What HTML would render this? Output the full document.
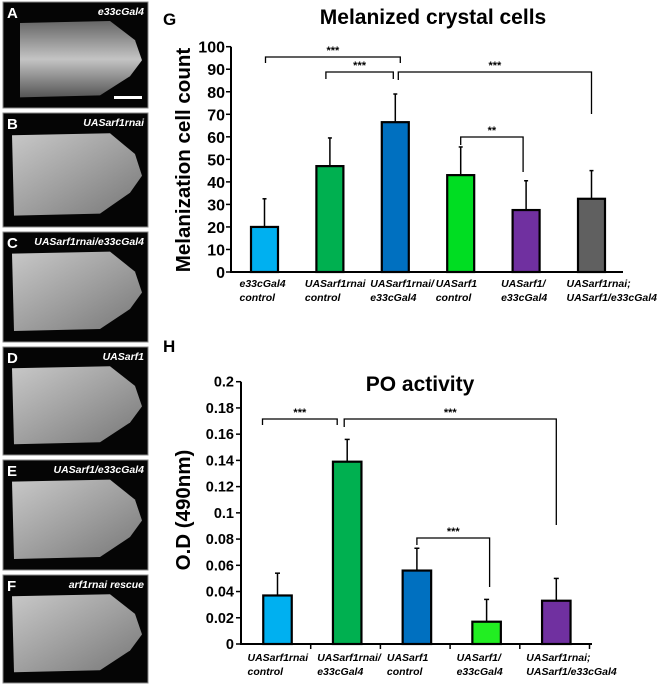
<!DOCTYPE html>
<html><head><meta charset="utf-8"><style>
body{margin:0;background:#fff;width:670px;height:685px;overflow:hidden;font-family:"Liberation Sans",Arial,sans-serif}
svg{display:block}
</style></head><body>
<svg width="670" height="685" viewBox="0 0 670 685" xmlns="http://www.w3.org/2000/svg">
<defs>
<linearGradient id="tis" x1="0" y1="0" x2="1" y2="1">
<stop offset="0" stop-color="#c8c8c8"/><stop offset="0.5" stop-color="#a0a0a0"/><stop offset="1" stop-color="#777"/>
</linearGradient>
<linearGradient id="tisA" x1="0" y1="0" x2="0" y2="1">
<stop offset="0" stop-color="#666"/><stop offset="0.5" stop-color="#c4c4c4"/><stop offset="1" stop-color="#555"/>
</linearGradient>
</defs>
<g id="panels"></g>
<g id="chartG"></g>
<g id="chartH"></g>
</svg>
<script>
// ---------- Chart G data ----------
const gCategories = [["e33cGal4","control"],["UASarf1rnai","control"],["UASarf1rnai/","e33cGal4"],["UASarf1","control"],["UASarf1/","e33cGal4"],["UASarf1rnai;","UASarf1/e33cGal4"]];
const gValues = [20, 47, 66.5, 43, 27.5, 32.5];
const gErrors = [12.5, 12.5, 12.5, 12.5, 13, 12.5];
const gColors = ["#00b0f0","#00b050","#0070c0","#00dd22","#7030a0","#606060"];
const gTicks = [0,10,20,30,40,50,60,70,80,90,100];
// ---------- Chart H data ----------
const hCategories = [["UASarf1rnai","control"],["UASarf1rnai/","e33cGal4"],["UASarf1","control"],["UASarf1/","e33cGal4"],["UASarf1rnai;","UASarf1/e33cGal4"]];
const hValues = [0.037, 0.139, 0.056, 0.017, 0.033];
const hErrors = [0.017, 0.017, 0.017, 0.017, 0.017];
const hColors = ["#00b0f0","#00b050","#0070c0","#22ee22","#7030a0"];
const hTicks = [0,0.02,0.04,0.06,0.08,0.1,0.12,0.14,0.16,0.18,0.2];
const hTickLabels = ["0","0.02","0.04","0.06","0.08","0.1","0.12","0.14","0.16","0.18","0.2"];

const NS="http://www.w3.org/2000/svg";
function mk(parent,tag,attrs,text){const e=document.createElementNS(NS,tag);for(const k in attrs)e.setAttribute(k,attrs[k]);if(text!==undefined)e.textContent=text;parent.appendChild(e);return e;}

// ---------- Panels ----------
const panels=[["A","e33cGal4",2,108],["B","UASarf1rnai",113,227],["C","UASarf1rnai/e33cGal4",232,342],["D","UASarf1",347,455],["E","UASarf1/e33cGal4",460,570],["F","arf1rnai rescue",575,683]];
const P=document.getElementById('panels');
panels.forEach((p,i)=>{
  const g=mk(P,'g',{});
  
  
  const y0=p[2],y1=p[3],h=y1-y0;
  mk(g,'rect',{x:3,y:y0,width:145,height:h,fill:'#050505',stroke:'#888','stroke-width':1});
  const t=y0+h*0.16,b=y1-h*0.1;
  mk(g,'path',{d:`M${i==0?20:12},${t+4} L${i==0?20:14},${b} L100,${b-2} L130,${b-h*0.2} L142,${y0+h*0.55} L135,${t+h*0.2} L110,${t+2} Z`,fill:i==0?'url(#tisA)':'url(#tis)'});
  const lab=mk(g,'text',{x:7,y:y0+16,fill:'#fff','font-size':15,'font-weight':'bold'},p[0]);
  
  
  const gl=mk(g,'text',{x:144,y:y0+13,fill:'#fff','font-size':10.5,'font-weight':'bold','font-style':'italic','text-anchor':'end'},p[1]);
  
  
});
const sb=mk(P,'rect',{x:114,y:96,width:28,height:3,fill:'#fff'});



function bracket(g,x1,x2,yt,yl,yr,label){
  mk(g,'path',{d:`M${x1},${yl} V${yt} H${x2} V${yr}`,fill:'none',stroke:'#000','stroke-width':1.3});
  const t=mk(g,'text',{x:(x1+x2)/2,y:yt-3,'font-size':11,'font-weight':'bold','text-anchor':'middle'},label);
  
  
}

// Chart G
(function(){
  const G=document.getElementById('chartG');
  const x0=231,x1=623,yb=272,yt=46.7,max=100;
  const ys=v=>yb-(v/max)*(yb-yt);
  const step=65.4,first=264.5,bw=27;
  const xc=i=>first+i*step;
  const ti=mk(G,'text',{x:433,y:24,'font-size':21,'font-weight':'bold','text-anchor':'middle'},'Melanized crystal cells');
  
  const L=mk(G,'text',{x:163,y:25,'font-size':17,'font-weight':'bold'},'G');
  
  const yl=mk(G,'text',{x:0,y:0,'font-size':20.5,'font-weight':'bold','text-anchor':'middle',transform:`translate(190,160) rotate(-90)`},'Melanization cell count');
  
  gTicks.forEach(v=>{
    mk(G,'line',{x1:x0-5,x2:x0,y1:ys(v),y2:ys(v),stroke:'#000','stroke-width':1.5});
    const t=mk(G,'text',{x:x0-6,y:ys(v)+6,'font-size':16,'font-weight':'bold','text-anchor':'end'},String(v));
    
  });
  gValues.forEach((v,i)=>{
    const e=mk(G,'line',{x1:xc(i),x2:xc(i),y1:ys(v),y2:ys(v+gErrors[i]),stroke:'#000','stroke-width':1.5});
    
    mk(G,'line',{x1:xc(i)-2,x2:xc(i)+2,y1:ys(v+gErrors[i]),y2:ys(v+gErrors[i]),stroke:'#000','stroke-width':1.5});
    const r=mk(G,'rect',{x:xc(i)-bw/2,y:ys(v),width:bw,height:yb-ys(v),fill:gColors[i],stroke:'#000','stroke-width':2.2});
    
    const t=mk(G,'text',{x:xc(i)-26,y:287,'font-size':10.5,'font-weight':'bold','font-style':'italic'});
    
    mk(t,'tspan',{x:xc(i)-25,dy:0},gCategories[i][0]);
    mk(t,'tspan',{x:xc(i)-25,dy:14},gCategories[i][1]);
  });
  mk(G,'line',{x1:x0,x2:x0,y1:yt,y2:yb+1,stroke:'#000','stroke-width':2});
  mk(G,'line',{x1:x0,x2:x1,y1:yb,y2:yb,stroke:'#000','stroke-width':2});
  bracket(G,xc(0)+1,xc(2)+5,57,63,63,'***');
  bracket(G,xc(1)-4,xc(2)-2,72,79,79,'***');
  bracket(G,xc(2)+3,xc(5),72,80,114,'***');
  bracket(G,xc(3),xc(4)-3,137,145,172,'**');
})();

// Chart H
(function(){
  const G=document.getElementById('chartH');
  const x0=241,x1=592,yb=644,yt=381.7,max=0.2;
  const ys=v=>yb-(v/max)*(yb-yt);
  const step=69.7,first=277.5,bw=28.5;
  const xc=i=>first+i*step;
  const ti=mk(G,'text',{x:420,y:391,'font-size':21,'font-weight':'bold','text-anchor':'middle'},'PO activity');
  
  const L=mk(G,'text',{x:163,y:352,'font-size':17,'font-weight':'bold'},'H');
  
  const yl=mk(G,'text',{x:0,y:0,'font-size':20.5,'font-weight':'bold','text-anchor':'middle',transform:`translate(190,510) rotate(-90)`},'O.D (490nm)');
  
  hTicks.forEach((v,k)=>{
    mk(G,'line',{x1:x0-5,x2:x0,y1:ys(v),y2:ys(v),stroke:'#000','stroke-width':1.5});
    const t=mk(G,'text',{x:x0-7,y:ys(v)+5,'font-size':14.5,'font-weight':'bold','text-anchor':'end'},hTickLabels[k]);
    
  });
  hValues.forEach((v,i)=>{
    const e=mk(G,'line',{x1:xc(i),x2:xc(i),y1:ys(v),y2:ys(v+hErrors[i]),stroke:'#000','stroke-width':1.5});
    
    mk(G,'line',{x1:xc(i)-2.5,x2:xc(i)+2.5,y1:ys(v+hErrors[i]),y2:ys(v+hErrors[i]),stroke:'#000','stroke-width':1.5});
    const r=mk(G,'rect',{x:xc(i)-bw/2,y:ys(v),width:bw,height:yb-ys(v),fill:hColors[i],stroke:'#000','stroke-width':2.2});
    
    const bx=x0+(i+1)*step;
    mk(G,'line',{x1:bx,x2:bx,y1:yb,y2:yb+5,stroke:'#000','stroke-width':1.5});
    const t=mk(G,'text',{x:0,y:661,'font-size':10.5,'font-weight':'bold','font-style':'italic'});
    
    mk(t,'tspan',{x:xc(i)-30,dy:0},hCategories[i][0]);
    mk(t,'tspan',{x:xc(i)-30,dy:14},hCategories[i][1]);
  });
  mk(G,'line',{x1:x0,x2:x0,y1:yt,y2:yb+1,stroke:'#000','stroke-width':2});
  mk(G,'line',{x1:x0,x2:x1,y1:yb,y2:yb,stroke:'#000','stroke-width':2});
  bracket(G,xc(0)-15,xc(1)-10,419,425,425,'***');
  bracket(G,xc(1)-3,xc(4),419,427,525,'***');
  bracket(G,xc(2)+0,xc(3)+3,538,545,587,'***');
})();
</script>
</body></html>
